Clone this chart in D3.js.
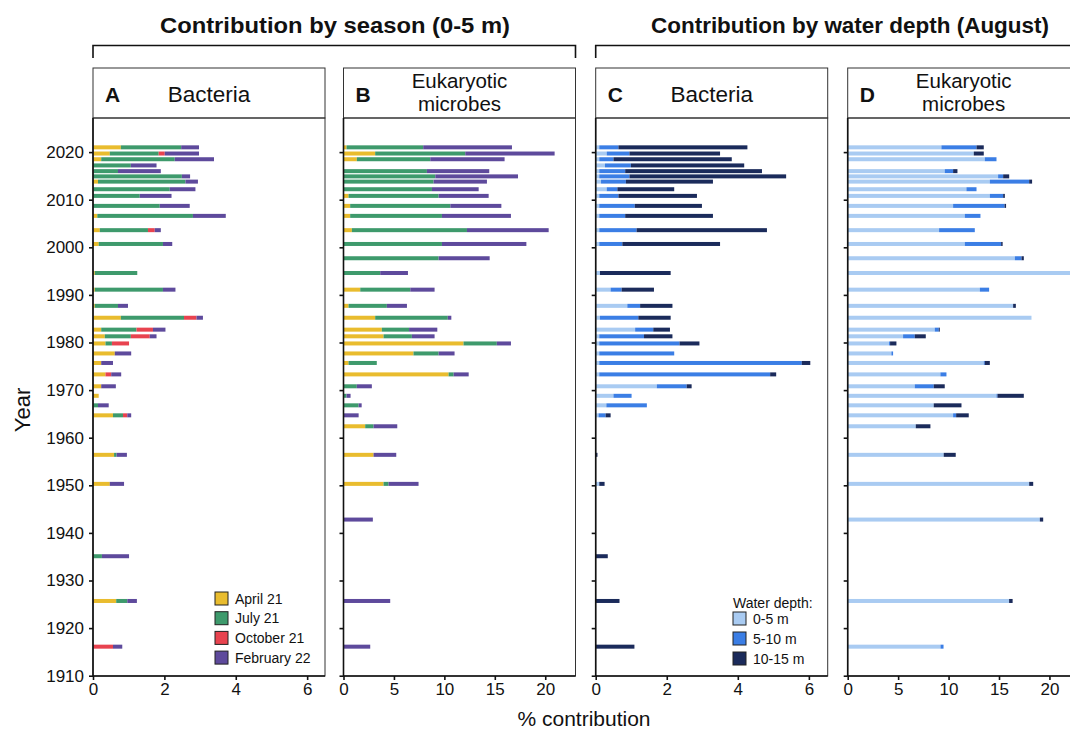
<!DOCTYPE html>
<html lang="en">
<head>
<meta charset="UTF-8">
<title>Contribution by season and water depth</title>
<style>
  body { margin: 0; background: #fff; }
  text { font-family: "Liberation Sans", Arial, sans-serif; fill: #111; }
</style>
</head>
<body>
<svg id="svg" width="1070" height="733"></svg>
<script src="https://d3js.org/d3.v7.min.js"></script>
<script>
// ---- DATA ----
// sample years (bacteria cores: panels A, C)
const yearsBac = [2021.0, 2019.7, 2018.5, 2017.2, 2016.0, 2014.9, 2013.8, 2012.2, 2010.8, 2008.7,
  2006.6, 2003.6, 2000.7, 1994.6, 1991.1, 1987.7, 1985.2, 1982.7, 1981.3, 1979.8,
  1977.7, 1975.7, 1973.3, 1970.8, 1968.8, 1966.8, 1964.7, 1956.4, 1950.3, 1935.1,
  1925.7, 1916.1]
// sample years (eukaryote cores: panels B, D)
const yearsEuk = [2021.0, 2019.7, 2018.5, 2016.0, 2014.9, 2013.8, 2012.2, 2010.8, 2008.7, 2006.6,
  2003.6, 2000.7, 1997.7, 1994.6, 1991.1, 1987.7, 1985.2, 1982.7, 1981.3, 1979.8,
  1977.7, 1975.7, 1973.3, 1970.8, 1968.8, 1966.8, 1964.7, 1962.4, 1956.4, 1950.3,
  1942.8, 1925.7, 1916.1]

// A - bacteria by season
const bacApril    = [.78, .47, .23, 0, 0, 0, .14, 0, 0, 0, .12, .19, .16, .05, .05, .05, .78, .23, .33, .35, .61, .23, .35, .23, .16, 0, .56, .59, .47, 0, .65, 0]
const bacJuly     = [1.69, 1.37, 2.06, 1.06, .7, 2.49, 2.45, 2.15, 1.31, 1.87, 2.68, 1.35, 1.8, 1.19, 1.91, .65, 1.77, .99, .73, .18, 0, 0, 0, 0, 0, .14, .28, .07, 0, .25, .31, 0]
const bacOctober  = [0, .17, 0, 0, 0, 0, 0, 0, 0, 0, 0, .19, 0, 0, 0, 0, .35, .46, .53, .48, 0, 0, .16, 0, 0, 0, .12, 0, 0, 0, 0, .56]
const bacFebruary = [.5, .96, 1.1, .72, 1.2, .23, .35, .72, .89, .84, .92, .17, .26, 0, .35, .28, .18, .35, .19, 0, .46, .33, .28, .41, 0, .3, .11, .29, .4, .76, .27, .26]

// B - eukaryotic microbes by season
const eukApril    = [.3, 3.14, 1.32, 0, 0, 0, 0, .5, .66, .66, .83, 0, 0, 0, 1.66, .5, 3.14, 3.8, 3.97, 11.9, 6.94, .5, 10.42, 0, 0, 0, 0, 2.15, 2.98, 3.97, 0, 0, 0]
const eukJuly     = [7.6, 8.93, 7.28, 8.27, 9.1, 8.93, 8.77, 8.93, 9.93, 9.1, 11.41, 9.76, 9.43, 3.64, 4.96, 3.8, 7.2, 2.7, 2.81, 3.3, 2.49, 2.8, .5, 1.32, .3, 1.5, 0, .83, 0, .5, 0, 0, 0]
const eukOctober  = [0, 0, 0, 0, 0, 0, 0, 0, 0, 0, 0, 0, 0, 0, 0, 0, 0, 0, 0, 0, 0, 0, 0, 0, 0, 0, 0, 0, 0, 0, 0, 0, 0]
const eukFebruary = [8.8, 8.86, 7.37, 6.18, 8.2, 5.29, 4.63, 4.96, 5.06, 6.84, 8.1, 8.37, 5.06, 2.75, 2.41, 1.99, .35, 2.8, 2.25, 1.4, 1.58, 0, 1.49, 1.49, .4, .3, 1.5, 2.35, 2.25, 2.97, 2.91, 4.63, 2.65]

// C - bacteria by water depth
const bacD0_5   = [.1, .31, .1, .26, .1, .1, .15, .31, .1, .1, .1, .1, .1, .12, .42, .89, .12, 1.11, .1, .1, .1, .1, .1, 1.72, .5, .3, .08, 0, .1, 0, 0, 0]
const bacD5_10  = [.54, .64, .4, .73, .73, .85, .7, .3, .54, 1.0, .73, 1.05, .65, 0, .31, .36, 1.08, .51, 1.26, 2.26, 2.11, 5.7, 4.81, .84, .51, 1.14, .2, 0, 0, 0, 0, 0]
const bacD10_15 = [3.63, 2.55, 3.33, 3.19, 3.85, 4.41, 2.45, 1.6, 2.21, 1.89, 2.47, 3.67, 2.75, 1.99, .91, .91, .91, .47, .8, .56, 0, .24, .17, .14, 0, 0, .14, .05, .15, .34, .67, 1.09]

// D - eukaryotic microbes by water depth
const eukD0_5   = [9.29, 12.5, 13.59, 9.62, 14.91, 14.09, 11.77, 14.09, 10.45, 11.61, 9.06, 11.61, 16.57, 24, 13.1, 16.4, 18.22, 8.63, 5.49, 4.1, 4.33, 13.49, 9.19, 6.65, 14.75, 8.53, 10.45, 6.75, 9.52, 17.99, 19.05, 16.0, 9.2]
const eukD5_10  = [3.48, 0, 1.16, .83, .5, 3.9, 1.0, 1.32, 5.1, 1.55, 3.54, 3.6, .66, 0, .92, 0, 0, .4, 1.16, .1, .17, .1, .6, 1.88, .1, 0, .3, 0, 0, 0, 0, 0, .3]
const eukD10_15 = [.72, .99, 0, .43, .6, .29, 0, .17, .15, 0, 0, .15, .23, 0, 0, .27, 0, .1, 1.09, .63, 0, .5, 0, 1.09, 2.61, 2.75, 1.25, 1.45, 1.19, .4, .33, .35, 0]

const seasonKeys = ['April 21', 'July 21', 'October 21', 'February 22']
const depthKeys = ['0-5 m', '5-10 m', '10-15 m']
const seasonColors = ['#E9BC2E', '#3E9A6C', '#E8434F', '#5E4A9C']
const depthColors = ['#A9CBF2', '#3B7EE5', '#1B2B5B']
const yearTicks = d3.range(1910, 2021, 10)

// ---- LAYOUT ----
const svg = d3.select('#svg')
const plotTop = 118, plotBottom = 676, panelW = 232
const headTop = 68
const y = d3.scaleLinear().domain([1910, 2020]).range([675.7, 152.1])

function rowsOf(years, keys, series) {
  return years.map((yr, i) => {
    const r = { year: yr }
    keys.forEach((k, j) => { r[k] = series[j][i] })
    return r
  })
}

const panels = [
  { letter: 'A', title: ['Bacteria'], left: 93, xMax: 6.5, ticks: [0, 2, 4, 6],
    rows: rowsOf(yearsBac, seasonKeys, [bacApril, bacJuly, bacOctober, bacFebruary]),
    keys: seasonKeys, colors: seasonColors, yLabels: true },
  { letter: 'B', title: ['Eukaryotic', 'microbes'], left: 343.5, xMax: 23, ticks: [0, 5, 10, 15, 20],
    rows: rowsOf(yearsEuk, seasonKeys, [eukApril, eukJuly, eukOctober, eukFebruary]),
    keys: seasonKeys, colors: seasonColors },
  { letter: 'C', title: ['Bacteria'], left: 595.7, xMax: 6.53, ticks: [0, 2, 4, 6],
    rows: rowsOf(yearsBac, depthKeys, [bacD0_5, bacD5_10, bacD10_15]),
    keys: depthKeys, colors: depthColors },
  { letter: 'D', title: ['Eukaryotic', 'microbes'], left: 847.7, xMax: 23, ticks: [0, 5, 10, 15, 20],
    rows: rowsOf(yearsEuk, depthKeys, [eukD0_5, eukD5_10, eukD10_15]),
    keys: depthKeys, colors: depthColors }
]

panels.forEach(p => {
  const g = svg.append('g')
  const x = d3.scaleLinear().domain([0, p.xMax]).range([p.left, p.left + panelW])
  const color = d3.scaleOrdinal(p.keys, p.colors)

  // header strip
  g.append('rect').attr('x', p.left).attr('y', headTop).attr('width', panelW).attr('height', plotTop - headTop)
    .attr('fill', '#fff').attr('stroke', '#333').attr('stroke-width', 1)
  g.append('text').attr('x', p.left + 12).attr('y', 102)
    .attr('font-size', 21).attr('font-weight', 'bold').text(p.letter)
  const cx = p.left + 116
  if (p.title.length === 1) {
    g.append('text').attr('x', cx).attr('y', 102).attr('text-anchor', 'middle')
      .attr('font-size', 22.5).text(p.title[0])
  } else {
    p.title.forEach((t, i) => g.append('text').attr('x', cx).attr('y', 88 + i * 22.5)
      .attr('text-anchor', 'middle').attr('font-size', 20.5).text(t))
  }

  // bars
  const stacked = d3.stack().keys(p.keys)(p.rows)
  g.append('g').selectAll('g').data(stacked).join('g')
    .attr('fill', d => color(d.key))
    .selectAll('rect').data(d => d.filter(s => s[1] - s[0] > 0)).join('rect')
    .attr('x', d => x(d[0]))
    .attr('width', d => x(d[1]) - x(d[0]))
    .attr('y', d => y(d.data.year) - 2)
    .attr('height', 4)

  // frame
  g.append('rect').attr('x', p.left).attr('y', plotTop).attr('width', panelW).attr('height', plotBottom - plotTop)
    .attr('fill', 'none').attr('stroke', '#333').attr('stroke-width', 1)

  // axes
  const yAxis = d3.axisLeft(y).tickValues(yearTicks).tickSize(4).tickPadding(5)
    .tickFormat(p.yLabels ? d3.format('d') : '')
  const ya = g.append('g').attr('transform', `translate(${p.left},0)`).call(yAxis)
  ya.select('.domain').attr('d', `M0,${plotTop}V${plotBottom}`)
  const xa = g.append('g').attr('transform', `translate(0,${plotBottom})`)
    .call(d3.axisBottom(x).tickValues(p.ticks).tickSize(4).tickPadding(3).tickFormat(d3.format('d')))
  xa.select('.domain').attr('d', `M${p.left},0H${p.left + panelW}`)
  g.selectAll('.domain').attr('stroke', '#111').attr('stroke-width', 1.6)
  g.selectAll('.tick line').attr('stroke', '#111').attr('stroke-width', 1.6)
  g.selectAll('.tick text').attr('font-size', 17).attr('fill', '#111')
    .attr('font-family', '"Liberation Sans", Arial, sans-serif')
})

// brackets and group titles
const groups = [
  { label: 'Contribution by season (0-5 m)', x0: 93, x1: 575.5, cx: 335, len: 350 },
  { label: 'Contribution by water depth (August)', x0: 595.7, x1: 1080, cx: 850, len: 398 }
]
groups.forEach(gr => {
  svg.append('path').attr('d', `M${gr.x0},58V45.5H${gr.x1}V58`)
    .attr('fill', 'none').attr('stroke', '#111').attr('stroke-width', 1.6)
  svg.append('text').attr('x', gr.cx).attr('y', 33)
    .attr('text-anchor', 'middle').attr('font-size', 22).attr('font-weight', 'bold')
    .attr('textLength', gr.len).attr('lengthAdjust', 'spacingAndGlyphs').text(gr.label)
})

// axis titles
svg.append('text').attr('transform', 'translate(30,410) rotate(-90)').attr('text-anchor', 'middle')
  .attr('font-size', 22).text('Year')
svg.append('text').attr('x', 584).attr('y', 726).attr('text-anchor', 'middle')
  .attr('font-size', 21).text('% contribution')

// legend - season
const legS = svg.append('g').attr('transform', 'translate(215,592)')
seasonKeys.forEach((k, i) => {
  legS.append('rect').attr('x', 0).attr('y', i * 19.7).attr('width', 13).attr('height', 13)
    .attr('fill', seasonColors[i]).attr('stroke', '#222').attr('stroke-width', 1)
  legS.append('text').attr('x', 20).attr('y', i * 19.7 + 11.5).attr('font-size', 14).text(k)
})

// legend - depth
const legD = svg.append('g').attr('transform', 'translate(733,612)')
legD.append('text').attr('x', 0).attr('y', -4).attr('font-size', 14).text('Water depth:')
depthKeys.forEach((k, i) => {
  legD.append('rect').attr('x', 0).attr('y', i * 20).attr('width', 13).attr('height', 13)
    .attr('fill', depthColors[i]).attr('stroke', '#222').attr('stroke-width', 1)
  legD.append('text').attr('x', 20).attr('y', i * 20 + 11.5).attr('font-size', 14).text(k)
})
</script>
</body>
</html>
